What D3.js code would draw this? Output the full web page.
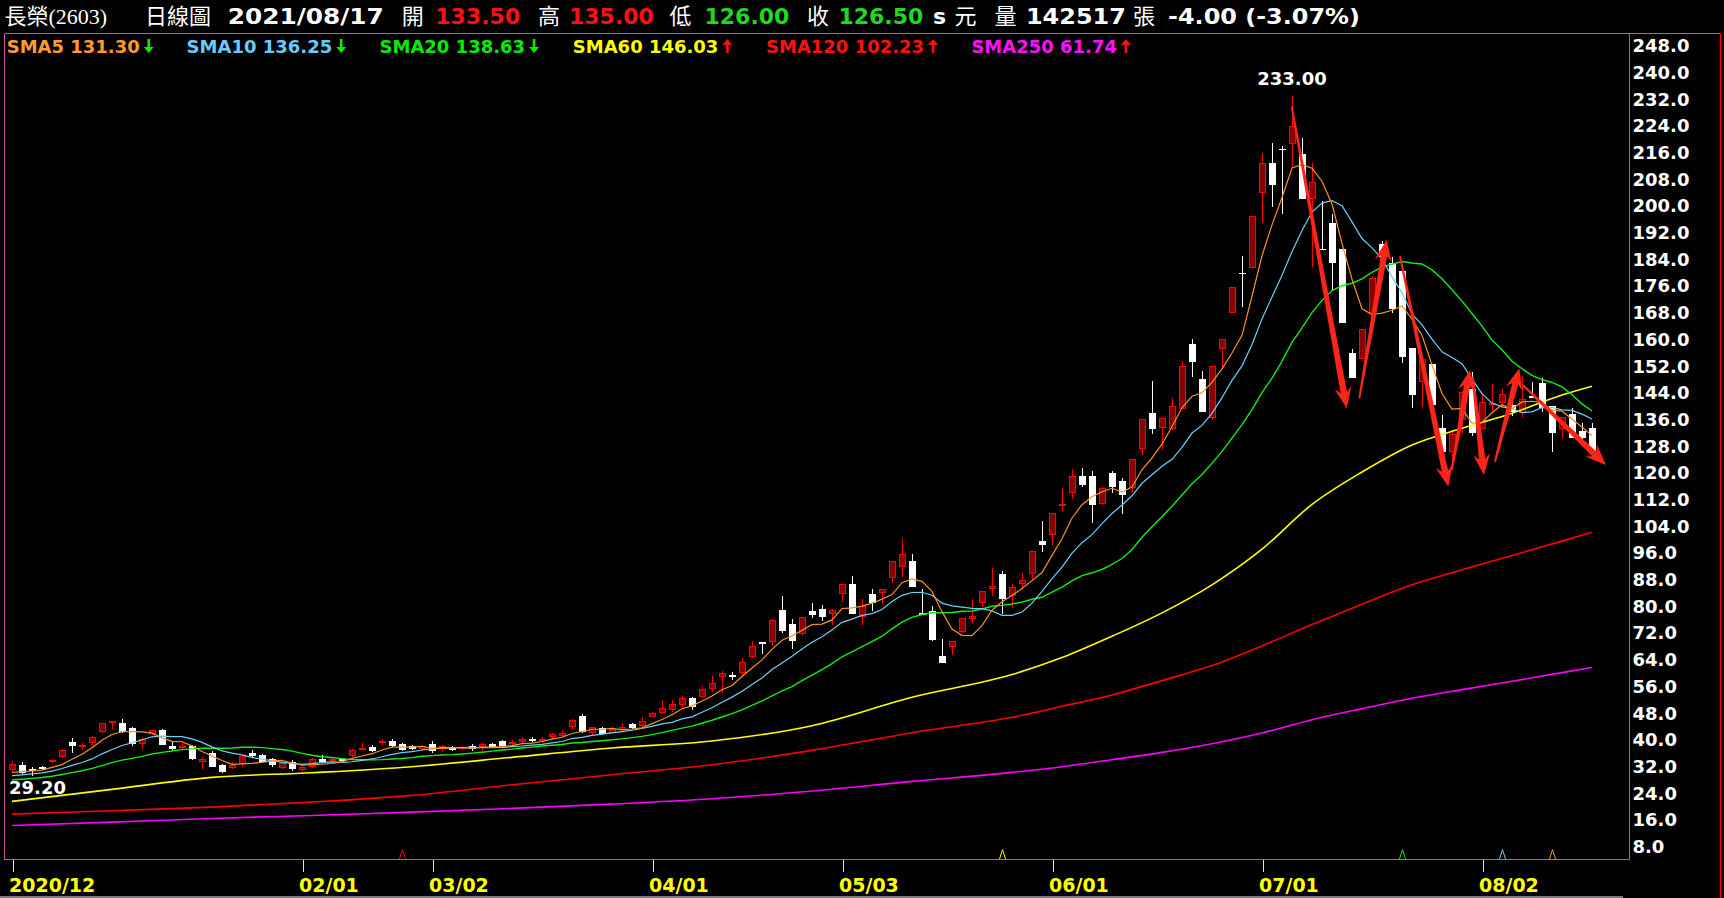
<!DOCTYPE html>
<html><head><meta charset="utf-8">
<script src="https://cdn.jsdelivr.net/npm/d3@7"></script>
<style>
html,body{margin:0;padding:0;background:#000;overflow:hidden}
svg{display:block}
</style></head><body>
<svg id="c" width="1724" height="898"></svg>
<script>
// ---------------- DATA ----------------
const openP = [31.0,32.5,31.2,31.9,33.3,34.8,39.4,38.0,39.0,42.5,45.0,45.1,43.5,38.7,41.7,43.0,38.2,37.7,38.3,33.3,
36.1,32.5,31.7,32.8,36.1,35.5,34.2,31.5,33.5,31.0,31.8,34.3,33.7,34.4,35.2,37.2,38.0,39.1,39.8,38.8,
38.2,37.2,38.8,37.6,37.5,37.2,38.1,38.0,38.8,39.7,39.0,39.4,40.4,39.8,40.8,41.2,44.0,47.2,42.0,43.5,
42.2,43.0,44.8,44.2,47.0,48.1,49.1,50.5,52.6,53.0,55.3,58.8,59.4,60.0,65.0,69.3,69.5,79.0,74.8,71.9,
78.7,79.3,77.9,83.9,86.7,77.0,83.9,84.0,88.4,91.7,93.6,78.0,78.6,65.2,67.8,72.5,76.4,81.0,85.4,89.6,
83.3,86.8,89.6,99.6,101.5,110.0,113.9,119.1,119.1,110.6,120.0,117.6,115.4,127.1,137.9,133.4,133.2,139.1,158.7,148.1,
136.4,157.1,167.9,180.0,181.3,203.8,212.8,217.2,218.5,215.6,202.0,187.2,194.8,187.0,155.9,154.1,167.9,188.5,182.8,180.5,
157.4,147.4,152.6,133.4,126.4,135.9,145.1,133.1,140.4,140.9,140.4,137.9,143.1,146.9,140.1,133.1,137.7,132.6,133.5];
const highP = [33.7,33.5,31.8,32.2,34.4,37.2,40.5,39.2,41.2,45.2,45.6,46.3,43.9,40.8,43.0,43.2,39.5,39.5,38.5,35.0,
36.8,32.8,33.5,35.2,37.0,35.8,34.5,33.5,34.0,32.5,34.5,35.4,34.8,34.7,37.3,39.2,38.4,40.2,40.2,39.2,
38.5,38.5,39.7,38.5,38.3,38.2,38.8,39.0,39.2,40.0,40.0,40.8,40.8,41.0,42.0,43.0,46.2,47.8,44.0,43.9,
44.0,45.0,45.2,47.0,48.5,52.0,52.0,53.2,53.0,56.2,59.2,60.8,60.5,64.6,69.6,69.5,76.2,83.2,76.2,77.0,
81.2,80.5,79.4,86.9,89.1,82.4,85.4,85.2,93.5,100.1,95.7,85.2,80.1,70.2,69.6,76.5,82.1,84.8,91.5,90.6,
86.9,89.9,96.5,105.6,107.9,115.4,121.1,121.4,120.6,115.9,120.6,118.4,124.1,136.1,147.6,136.4,142.5,153.6,160.2,150.6,
152.1,160.1,175.9,185.0,197.0,215.8,219.0,218.0,233.0,220.3,212.8,201.5,197.5,187.0,157.1,163.1,179.0,189.5,184.8,181.5,
157.4,154.1,152.6,137.4,132.9,144.4,150.4,143.9,146.6,145.1,141.8,149.1,147.4,148.4,140.1,136.9,139.4,135.1,135.0];
const lowP = [30.5,29.7,29.2,31.0,33.0,34.5,36.2,37.0,38.5,42.2,43.2,42.2,38.3,37.3,41.5,38.4,37.0,37.0,34.0,31.3,
31.8,30.2,31.2,31.8,34.8,33.3,32.0,31.2,30.8,30.7,31.5,33.0,33.4,33.5,34.8,37.0,36.4,38.6,38.0,36.6,
37.0,36.8,36.2,36.5,36.8,37.0,36.8,36.6,37.8,38.0,38.5,39.0,39.4,39.4,40.4,41.0,43.0,42.2,41.5,41.5,
42.0,42.8,43.4,44.0,46.8,47.8,48.5,50.0,49.0,52.5,54.5,54.2,58.0,59.5,64.5,65.8,68.2,72.2,67.2,71.2,
76.5,75.8,74.5,81.4,77.7,74.4,78.7,80.8,87.1,88.9,85.9,77.5,69.8,63.2,65.5,72.0,75.0,80.0,83.2,77.8,
79.5,85.4,87.9,96.4,98.1,108.4,112.2,115.9,104.9,110.4,113.9,107.7,113.9,125.4,131.7,126.9,132.9,139.1,148.9,138.4,
135.9,151.1,167.9,169.9,181.3,194.8,199.8,197.5,211.8,202.0,181.8,186.8,174.9,164.9,148.4,154.1,167.9,182.0,167.9,152.9,
139.4,139.9,140.4,126.4,120.9,131.9,131.1,133.1,137.9,139.4,137.1,136.9,142.4,138.4,126.4,130.4,130.4,128.9,126.0];
const closeP = [32.8,30.2,31.0,31.2,33.9,36.9,38.3,38.5,40.8,45.0,45.6,42.5,38.8,40.4,42.9,38.6,37.3,38.2,34.3,34.3,
32.0,30.4,32.5,35.1,35.1,33.5,32.5,33.2,31.2,31.8,34.2,33.3,34.3,33.8,37.0,37.6,36.8,39.8,38.2,37.0,
37.4,38.2,36.7,38.2,37.5,37.8,37.2,38.8,38.0,38.2,39.3,40.3,39.6,40.4,41.8,42.0,46.0,42.5,43.8,41.8,
43.4,43.8,43.7,45.6,48.1,49.6,50.8,52.7,50.0,55.3,57.1,60.1,59.2,63.4,68.2,69.1,76.0,72.7,69.8,76.8,
77.5,76.8,79.1,86.7,77.8,80.2,81.2,85.2,93.5,95.6,85.9,77.6,70.0,63.2,69.6,76.5,77.2,84.8,86.3,82.3,
85.8,87.9,96.5,98.5,107.9,110.7,119.1,116.4,110.4,115.4,115.9,113.4,124.1,136.1,133.2,136.4,140.0,152.1,153.3,138.4,
152.1,160.1,175.9,179.8,197.0,212.8,206.3,217.0,224.0,202.0,207.3,187.0,182.8,164.9,148.4,163.1,178.3,184.8,169.3,154.9,
143.4,154.1,140.4,126.4,131.6,144.4,131.9,141.4,141.1,143.6,138.4,142.1,142.4,139.4,131.9,136.9,130.4,130.4,126.5];
const preCloses = [25.5,25.8,26.0,26.3,26.5,26.8,27.0,27.2,27.8,28.1,27.6,28.0,28.5,28.6,28.8,29.2,29.8,30.0,29.7];

// long moving averages at these candle indices
const longIdx = [0,10,20,30,40,50,60,70,80,90,100,105,110,115,120,125,130,135,140,145,150,155,158];
const sma60  = [21.6,25.2,28.8,30.2,32.0,34.8,37.6,39.7,44.3,52.8,59.6,64.7,71.1,78.1,86.5,97.2,110.6,120.3,128.4,133.4,137.9,143.4,146.03];
const sma120 = [17.8,18.8,19.9,21.4,23.4,26.6,29.6,32.6,36.9,42.2,46.8,50.1,53.5,57.8,62.3,68.2,74.6,80.7,86.5,91.0,95.3,99.6,102.23];
const sma250 = [14.4,15.4,16.5,17.4,18.4,19.5,20.8,22.4,24.7,27.6,30.3,32.0,34.1,36.3,38.9,42.1,46.1,49.4,52.5,55.1,57.6,60.2,61.74];

const smaNames   = ["SMA5","SMA10","SMA20","SMA60","SMA120","SMA250"];
const smaPeriods = [5,10,20,60,120,250];
const smaValues  = ["131.30","136.25","138.63","146.03","102.23","61.74"];
const smaDirs    = ["down","down","down","up","up","up"];

const yTicks = [8,16,24,32,40,48,56,64,72,80,88,96,104,112,120,128,136,144,152,160,168,176,184,192,200,208,216,224,232,240,248];
const xTickIdx = [0,29,42,64,83,104,125,147];
const xTickLabels = ["2020/12","02/01","03/02","04/01","05/03","06/01","07/01","08/02"];

// hand-drawn red arrows: [fromIndex, fromPrice, toIndex, toPrice]
const arrows = [
  [127.97,229.8,133.47,139.4],
  [134.73,142.4,137.47,189.8],
  [138.8,185.0,143.63,115.9],
  [143.97,120.9,145.8,150.9],
  [146.07,148.9,147.2,119.4],
  [148.3,123.4,150.73,151.4],
  [151.07,146.4,159.4,122.4]
];

// header
const header = [
  {t:"長榮(2603)", x:4.5, f:"cjk", c:"#fff"},
  {t:"日線圖", x:145, f:"cjk", c:"#fff"},
  {t:"2021/08/17", x:227.7, f:"num", c:"#fff", w:156},
  {t:"開", x:401.8, f:"cjk", c:"#fff"},
  {t:"133.50", x:435.3, f:"num", c:"#ff1010"},
  {t:"高", x:538, f:"cjk", c:"#fff"},
  {t:"135.00", x:569, f:"num", c:"#ff1010"},
  {t:"低", x:669.6, f:"cjk", c:"#fff"},
  {t:"126.00", x:704.5, f:"num", c:"#1fd81f"},
  {t:"收", x:807, f:"cjk", c:"#fff"},
  {t:"126.50", x:838.4, f:"num", c:"#1fd81f"},
  {t:"s", x:933, f:"num", c:"#fff"},
  {t:"元", x:954.5, f:"cjk", c:"#fff"},
  {t:"量", x:994.6, f:"cjk", c:"#fff"},
  {t:"142517", x:1025.9, f:"num", c:"#fff", w:100},
  {t:"張", x:1133, f:"cjk", c:"#fff"},
  {t:"-4.00 (-3.07%)", x:1168, f:"num", c:"#fff", w:192}
];

// ---------------- LAYOUT ----------------
const W = 1724, H = 898;
const plot = {l:4.5, r:1629.5, t:33.5, b:859.5};
const smaColors   = ["#f7931e","#6ecff6","#11ee11","#ffff00","#ff0000","#ff00ff"];
const legendCols  = ["#ff9a2e","#66ccff","#00ee00","#ffff00","#ff1010","#ff10ff"];
const legendX     = [6.7,186.6,379.5,572.8,766,971.4];
const smaWidths   = [1.2,1.2,1.4,1.6,1.6,1.6];

const svg = d3.select("#c");
svg.append("rect").attr("width",W).attr("height",H).attr("fill","#000");

const N = closeP.length;
const x = d3.scaleLinear().domain([0, N-1]).range([12, 12 + 10*(N-1)]);
const y = d3.scaleLinear().domain([8, 248]).range([846.8, 45.9]);

// ---------------- HEADER ----------------
const hg = svg.append("g");
header.forEach(h => {
  const t = hg.append("text").attr("x",h.x).attr("y",24).attr("fill",h.c).text(h.t);
  if (h.f === "cjk") t.attr("font-family","'Liberation Serif','Noto Sans CJK TC',serif").attr("font-size",22);
  else t.attr("font-family","'DejaVu Sans',Verdana,sans-serif").attr("font-weight","bold").attr("font-size",22);
  if (h.w) t.attr("textLength",h.w).attr("lengthAdjust","spacingAndGlyphs");
});

// ---------------- FRAME ----------------
const frame = svg.append("g").attr("stroke","#c8559a").attr("stroke-width",1).attr("shape-rendering","crispEdges");
frame.append("line").attr("x1",plot.l).attr("x2",1720).attr("y1",plot.t).attr("y2",plot.t);
frame.append("line").attr("x1",plot.l).attr("x2",plot.l).attr("y1",plot.t).attr("y2",plot.b);
frame.append("line").attr("x1",plot.r).attr("x2",plot.r).attr("y1",plot.t).attr("y2",plot.b);
frame.append("line").attr("x1",plot.l).attr("x2",plot.r).attr("y1",plot.b).attr("y2",plot.b);
svg.append("line").attr("x1",1720.5).attr("x2",1720.5).attr("y1",plot.t).attr("y2",H)
  .attr("stroke","#ff0000").attr("stroke-width",1.5);
svg.append("line").attr("x1",0).attr("x2",1623).attr("y1",897).attr("y2",897)
  .attr("stroke","#7a7a7a").attr("stroke-width",2);

// ---------------- LEGEND ----------------
const lg = svg.append("g").attr("font-family","'DejaVu Sans',Verdana,sans-serif").attr("font-weight","bold").attr("font-size",18);
smaNames.forEach((n,k) => {
  const t = lg.append("text").attr("x",legendX[k]).attr("y",53).attr("fill",legendCols[k]).text(n + " " + smaValues[k]);
  const ax = legendX[k] + t.node().getComputedTextLength() + 9;
  const down = smaDirs[k] === "down";
  const col = down ? "#00ee00" : "#ff1010";
  // arrow glyph: shaft + head
  const top = 39, bot = 53;
  const d = down
    ? `M${ax-1.3},${top}H${ax+1.3}V${bot-6}H${ax+5}L${ax},${bot}L${ax-5},${bot-6}H${ax-1.3}Z`
    : `M${ax-1.3},${bot}H${ax+1.3}V${top+6}H${ax+5}L${ax},${top}L${ax-5},${top+6}H${ax-1.3}Z`;
  lg.append("path").attr("d",d).attr("fill",col);
});

// ---------------- AXES ----------------
const yAxis = d3.axisRight(y).tickValues(yTicks).tickSize(0).tickPadding(4).tickFormat(d => d.toFixed(1));
const ya = svg.append("g").attr("transform",`translate(${plot.r - 0.5},0)`).call(yAxis);
ya.select(".domain").remove();
ya.selectAll("text").attr("fill","#fff").attr("font-family","'DejaVu Sans',Verdana,sans-serif")
  .attr("font-weight","bold").attr("font-size",18).attr("x",3.5);

const xAxis = d3.axisBottom(x).tickValues(xTickIdx).tickSize(12).tickFormat((d,k) => xTickLabels[k]);
const xa = svg.append("g").attr("transform",`translate(0.5,${plot.b})`).call(xAxis);
xa.select(".domain").remove();
xa.selectAll("line").attr("stroke","#ffff00").attr("shape-rendering","crispEdges");
xa.selectAll("text").attr("fill","#ffff00").attr("font-family","'DejaVu Sans',Verdana,sans-serif")
  .attr("font-weight","bold").attr("font-size",19).attr("text-anchor","start")
  .attr("dx",-4).attr("y",18).attr("dy","0.75em");

// ---------------- CANDLES ----------------
const data = closeP.map((c,i) => ({i, o:openP[i], h:highP[i], l:lowP[i], c}));
const cg = svg.append("g").attr("shape-rendering","crispEdges");
data.forEach(d => {
  const up = d.c > d.o;
  const cx = Math.round(x(d.i));
  const col = up ? "#ff0000" : "#ffffff";
  cg.append("line").attr("x1",cx+0.5).attr("x2",cx+0.5)
    .attr("y1",y(d.h)).attr("y2",y(d.l)).attr("stroke",col).attr("stroke-width",1);
  const top = y(Math.max(d.o,d.c)), bot = y(Math.min(d.o,d.c));
  const hgt = Math.max(1, bot - top);
  if (up) {
    cg.append("rect").attr("x",cx-2.5).attr("y",top+0.5).attr("width",6).attr("height",Math.max(1,hgt-1))
      .attr("fill","#8b0000").attr("stroke","#ff0000").attr("stroke-width",1);
  } else {
    cg.append("rect").attr("x",cx-3).attr("y",top).attr("width",7).attr("height",Math.max(1.5,hgt))
      .attr("fill","#ffffff");
  }
});

// ---------------- MOVING AVERAGES ----------------
const allC = preCloses.concat(closeP);
const off = preCloses.length;
function smaSeries(p){
  return closeP.map((c,i) => {
    const s = allC.slice(i+off-p+1, i+off+1);
    return {i, v: d3.mean(s)};
  });
}
const lineGen = d3.line().x(d => x(d.i)).y(d => y(d.v));
const lineCurve = d3.line().x(d => x(d.i)).y(d => y(d.v)).curve(d3.curveMonotoneX);
const mg = svg.append("g").attr("fill","none");
const longSets = [sma60, sma120, sma250];
[5,4,3].forEach(k => {
  const vals = longSets[k-3].map((v,j) => ({i:longIdx[j], v}));
  mg.append("path").attr("d",lineCurve(vals)).attr("stroke",smaColors[k]).attr("stroke-width",smaWidths[k]);
});
[2,1,0].forEach(k => {
  mg.append("path").attr("d",lineGen(smaSeries(smaPeriods[k]))).attr("stroke",smaColors[k]).attr("stroke-width",smaWidths[k]);
});

// deduction markers
const mk = svg.append("g").attr("fill","none").attr("stroke-width",1);
smaPeriods.forEach((p,k) => {
  const idx = N - p;
  if (idx < 0) return;
  const px = x(idx) + 0.5;
  mk.append("path").attr("d",`M${px-3},${plot.b-0.5}L${px},${plot.b-10}L${px+3},${plot.b-0.5}`)
    .attr("stroke",smaColors[k]);
});

// ---------------- HIGH / LOW LABELS ----------------
const hiIdx = d3.maxIndex(highP), loIdx = d3.minIndex(lowP);
const lab = svg.append("g").attr("font-family","'DejaVu Sans',Verdana,sans-serif").attr("font-weight","bold")
  .attr("font-size",18).attr("fill","#fff");
lab.append("text").attr("x",x(hiIdx)).attr("y",y(highP[hiIdx]) - 11).attr("text-anchor","middle")
  .text(highP[hiIdx].toFixed(2));
const loT = lab.append("text").attr("y",y(lowP[loIdx]) + 18).text(lowP[loIdx].toFixed(2));
const lw = loT.node().getComputedTextLength();
loT.attr("x", Math.max(plot.l + 4.5, x(loIdx) - lw/2));

// ---------------- ARROWS ----------------
function arrowPts(x1,y1,x2,y2){
  const dx=x2-x1, dy=y2-y1, L=Math.hypot(dx,dy), ux=dx/L, uy=dy/L, nx=-uy, ny=ux;
  const hl=21, hw=8.5, s0=1.0, s1=3.2, bx=x2-ux*hl, by=y2-uy*hl, bx2=x2-ux*(hl-5), by2=y2-uy*(hl-5);
  return [[x1+nx*s0,y1+ny*s0],[bx2+nx*s1,by2+ny*s1],[bx+nx*hw,by+ny*hw],[x2,y2],
          [bx-nx*hw,by-ny*hw],[bx2-nx*s1,by2-ny*s1],[x1-nx*s0,y1-ny*s0]];
}
const ag = svg.append("g");
arrows.forEach(a => {
  const pts = arrowPts(x(a[0]),y(a[1]),x(a[2]),y(a[3]));
  ag.append("polygon").attr("points",pts.map(p=>p.join(",")).join(" ")).attr("fill","#ff2418");
});
</script>
</body></html>
